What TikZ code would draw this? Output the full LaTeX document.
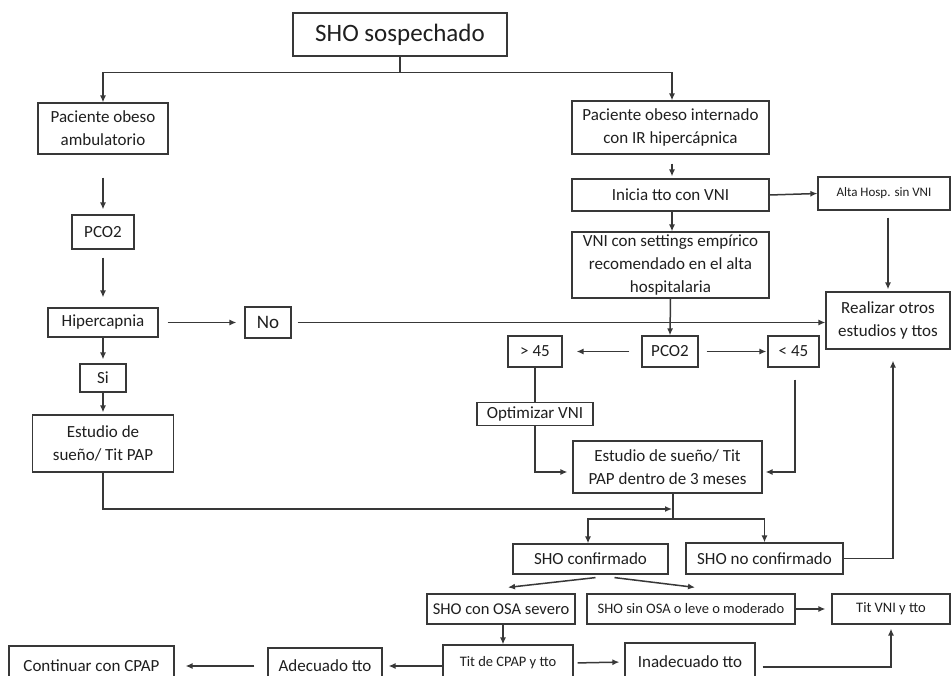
\documentclass[tikz,border=0pt]{standalone}
\usepackage{fontspec}
\setmainfont{Carlito}
\usetikzlibrary{arrows.meta}
\begin{document}
\begin{tikzpicture}[x=1pt,y=-1pt,
  box/.style={draw=black!78, line width=1.2pt, fill=white, inner sep=0pt,
    align=center, text=black!88, font=\fontsize{17}{23}\selectfont},
  smallbox/.style={box, font=\fontsize{14.5}{17}\selectfont},
  arr/.style={draw=black!78, line width=1.5pt, -{Latex[length=7pt,width=6pt]}},
  ln/.style={draw=black!78, line width=1.5pt}]
\useasboundingbox (0,0) rectangle (951,676);
\clip (0,0) rectangle (951,676);
\fill[white] (0,0) rectangle (951,676);

% top
\node[box, font=\fontsize{25}{30}\selectfont, minimum width=214pt, minimum height=43pt] (sho) at (400,34.5) {SHO sospechado};

% left branch: outpatient
\node[box, minimum width=130pt, minimum height=51pt] (amb) at (103,128.5) {Paciente obeso\\ambulatorio};
\node[box, minimum width=62pt, minimum height=34pt] (pcoa) at (103,232) {PCO2};
\node[box, minimum width=110pt, minimum height=29pt] (hiper) at (103,322.5) {Hipercapnia};
\node[box, font=\fontsize{19}{23}\selectfont, minimum width=46pt, minimum height=31pt] (no) at (268,322.5) {No};
\node[box, minimum width=46pt, minimum height=28pt] (si) at (103,378) {Si};
\node[box, minimum width=141pt, minimum height=57pt] (esta) at (103,443.5) {Estudio de\\sueño/ Tit PAP};

% right branch: inpatient
\node[box, minimum width=197pt, minimum height=53pt] (inter) at (670.5,127.5) {Paciente obeso internado\\con IR hipercápnica};
\node[box, minimum width=197pt, minimum height=32pt] (inicia) at (670.5,195) {Inicia tto con VNI};
\node[smallbox, font=\fontsize{13}{16}\selectfont, minimum width=132pt, minimum height=33pt] (alta) at (884,193.5) {Alta Hosp. sin VNI};
\node[box, minimum width=197pt, minimum height=66pt] (vni) at (670.5,265) {VNI con settings empírico\\recomendado en el alta\\hospitalaria};
\node[box, minimum width=124pt, minimum height=57pt] (realizar) at (888,320.5) {Realizar otros\\estudios y ttos};
\node[box, minimum width=56pt, minimum height=31pt] (pcob) at (670,351.5) {PCO2};
\node[box, minimum width=54pt, minimum height=31pt] (gt) at (535,351.5) {> 45};
\node[box, minimum width=51pt, minimum height=31pt] (lt) at (793.5,351.5) {< 45};
\node[box, minimum width=116pt, minimum height=23pt] (opt) at (535,414) {Optimizar VNI};
\node[box, minimum width=189pt, minimum height=52pt] (estb) at (667.5,467) {Estudio de sueño/ Tit\\PAP dentro de 3 meses};

% outcome of the study
\node[box, minimum width=155pt, minimum height=30pt] (conf) at (590.5,559) {SHO confirmado};
\node[box, minimum width=157pt, minimum height=31pt] (noconf) at (764.5,558.5) {SHO no confirmado};
\node[smallbox, font=\fontsize{16.5}{19}\selectfont, minimum width=148pt, minimum height=30pt] (osa) at (501,609) {SHO con OSA severo};
\node[smallbox, minimum width=208pt, minimum height=30pt] (sinosa) at (691,609) {SHO sin OSA o leve o moderado};
\node[smallbox, minimum width=118pt, minimum height=30pt] (titvni) at (891,609) {Tit VNI y tto};
\node[smallbox, minimum width=130pt, minimum height=36pt] (titcpap) at (508,663) {Tit de CPAP y tto};
\node[box, minimum width=130pt, minimum height=38pt] (inad) at (690,662) {Inadecuado tto};
\node[box, minimum width=114pt, minimum height=36pt] (adec) at (325,666) {Adecuado tto};
\node[box, minimum width=165pt, minimum height=40pt] (cont) at (91.5,666) {Continuar con CPAP};

% connectors: top split
\draw[ln] (sho.south) -- ++(0,16) coordinate (split);
\draw[arr] (split) -| (amb.north);
\draw[arr] (split) -| ([xshift=1.5pt]inter.north);

% left column
\draw[arr, shorten <=23pt, shorten >=5pt] (amb.south) -- (pcoa.north);
\draw[arr, shorten <=8pt, shorten >=10pt] (pcoa.south) -- (hiper.north);
\draw[arr, shorten >=4pt] (hiper.south) -- (si.north);
\draw[arr, shorten >=2pt] (si.south) -- (esta.north);
\draw[arr, shorten <=9pt, shorten >=8pt] (hiper.east) -- (no.west);
\draw[arr, shorten <=6pt] (no.east) -- (no.east -| realizar.west);
\coordinate (joinb) at ([xshift=5.5pt]estb.south);
\draw[arr, shorten >=1pt] (esta.south) |- (joinb |- 0,509);

% right column
\draw[arr, shorten <=9pt, shorten >=2pt] ([xshift=1.5pt]inter.south) -- ([xshift=1.5pt]inicia.north);
\draw[arr] (inicia.east) -- (alta.west);
\draw[arr] ([xshift=1.5pt]inicia.south) -- ([xshift=1.5pt]vni.north);
\draw[arr, shorten <=7pt, shorten >=2pt] (realizar.north |- alta.south) -- (realizar.north);
\draw[arr] (vni.south) -- (pcob.north);
\draw[arr, shorten <=12pt, shorten >=14pt] (pcob.west) -- (gt.east);
\draw[arr, shorten <=8pt, shorten >=1pt] (pcob.east) -- (lt.west);
\draw[ln] (gt.south) -- (opt.north);
\draw[arr, shorten >=5pt] (opt.south) |- ([yshift=-5pt]estb.west);
\draw[arr, shorten <=12pt, shorten >=3pt] ([xshift=1.5pt]lt.south) |- ([yshift=-5pt]estb.east);

% study result split
\draw[ln] (estb.south -| joinb) -- (joinb |- 0,519) coordinate (split2);
\draw[arr] (split2) -| ([xshift=-2.5pt]conf.north);
\draw[arr] (split2) -| (noconf.north);
\draw[arr, shorten >=11pt] (noconf.east) -| ([xshift=5pt]realizar.south);
\draw[arr] ([xshift=5pt,yshift=-3pt]conf.south) -- ([xshift=7pt,yshift=6pt]osa.north);
\draw[arr] ([xshift=24pt,yshift=-3pt]conf.south) -- ([xshift=4pt,yshift=6pt]sinosa.north);
\draw[arr, shorten >=6pt] (sinosa.east) -- (titvni.west);

% bottom row
\draw[arr] ([xshift=2pt]osa.south) -- ([xshift=2pt]osa.south |- titcpap.north);
\draw[arr, shorten <=4pt, shorten >=5pt] (titcpap.east) -- (inad.west);
\draw[arr, shorten <=7pt, shorten >=4pt] ([yshift=-5pt]inad.east) -| (titvni.south);
\draw[arr, shorten >=6pt] ([yshift=-3pt]titcpap.west) -- ([yshift=-3pt]titcpap.west -| adec.east);
\draw[arr, shorten <=13pt, shorten >=11pt] (adec.west) -- (adec.west -| cont.east);
\end{tikzpicture}
\end{document}
